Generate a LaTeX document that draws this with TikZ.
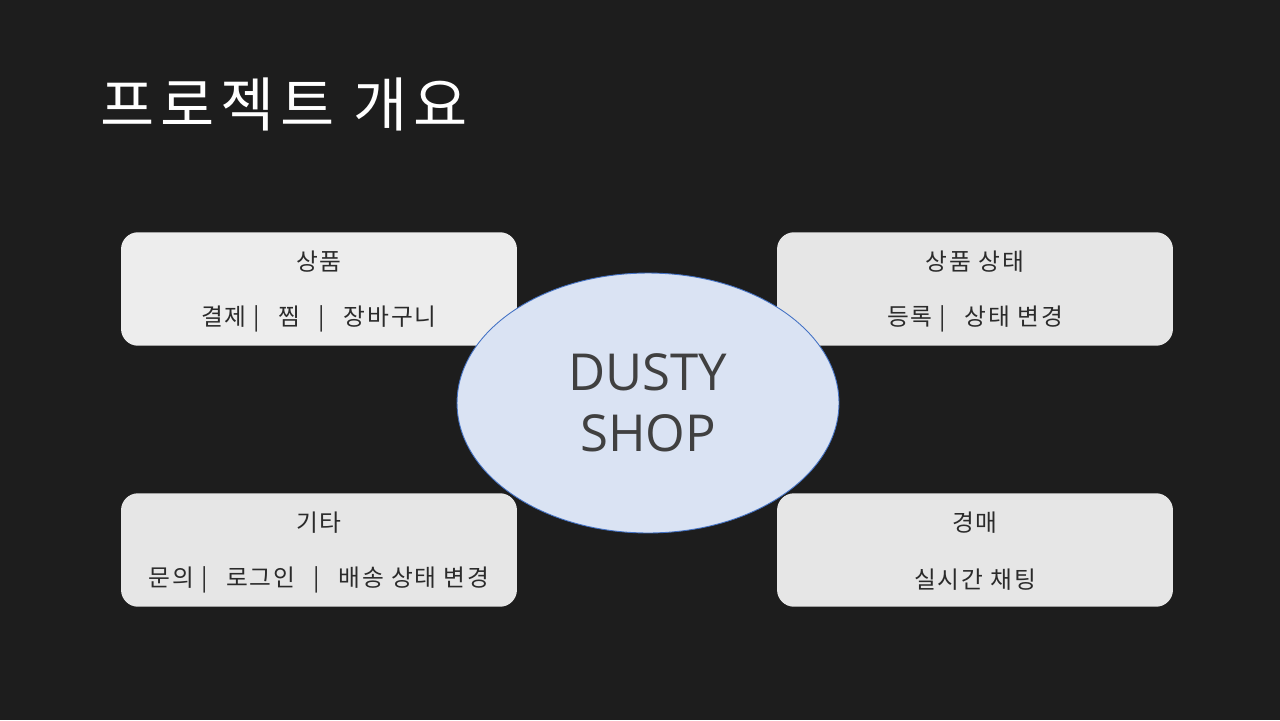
\documentclass[tikz,border=0pt]{standalone}
\usepackage{fontspec}
\setmainfont{Open Sans}
\newfontfamily\kor{Noto Sans CJK KR}
\newfontfamily\kortitle[LetterSpace=10]{Noto Sans CJK KR}
\newfontfamily\korcard[LetterSpace=8]{Noto Sans CJK KR}
\usetikzlibrary{shapes.geometric}
\usetikzlibrary{positioning}
\definecolor{bgdark}{HTML}{1D1D1D}
\definecolor{cardlight}{HTML}{EDEDED}
\definecolor{cardgray}{HTML}{E6E6E6}
\definecolor{shopfill}{HTML}{DAE3F3}
\definecolor{shopline}{HTML}{4472C4}
\definecolor{inktext}{HTML}{2B2B2B}

\begin{document}
\begin{tikzpicture}
  [x=0.02cm, y=-0.02cm,
  card/.style={rounded corners=0.34cm,fill=cardgray,draw=none,minimum width=7.92cm,minimum height=2.27cm,inner sep=0pt},
  cardtext/.style={font=\korcard\fontsize{13.5}{16}\selectfont,text=inktext,inner sep=0pt},
  shop/.style={ellipse,fill=shopfill,draw=shopline,line width=0.5pt,minimum width=7.64cm,minimum height=5.2cm,inner sep=0pt,align=center,text=black!75,font=\fontsize{29}{34.5}\selectfont}]
  \fill[bgdark] (0,0) rectangle (1280,720);
  \useasboundingbox (0,0) rectangle (1280,720);

  \node[font=\kortitle\fontsize{33.5}{40}\selectfont,text=white,anchor=west,inner sep=0pt] (title) at (100,104) {프로젝트 개요};

  \node[card,fill=cardlight] (goods) at (319,289) {};
  \node[card] (state) at (975,289) {};
  \node[card] (etc) at (319,550) {};
  \node[card] (auction) at (975,550) {};

  \node[shop] (dusty) at (648,403) {DUSTY\\SHOP};

  \node[cardtext] (goods-h) at (319,262) {상품};
  \node[cardtext] (goods-d) at (319,319) {결제 |\ \ \,찜\ \ \,|\ \ \,장바구니};
  \node[cardtext] (state-h) at (975,262) {상품 상태};
  \node[cardtext] (state-d) at (975,319) {등록 |\ \ \,상태 변경};
  \node[cardtext] (etc-h) at (319,523) {기타};
  \node[cardtext] (etc-d) at (319,580) {문의 |\ \ \,로그인\ \ \,|\ \ \,배송 상태 변경};
  \node[cardtext] (auction-h) at (975,523) {경매};
  \node[cardtext] (auction-d) at (975,580) {실시간 채팅};
\end{tikzpicture}
\end{document}
